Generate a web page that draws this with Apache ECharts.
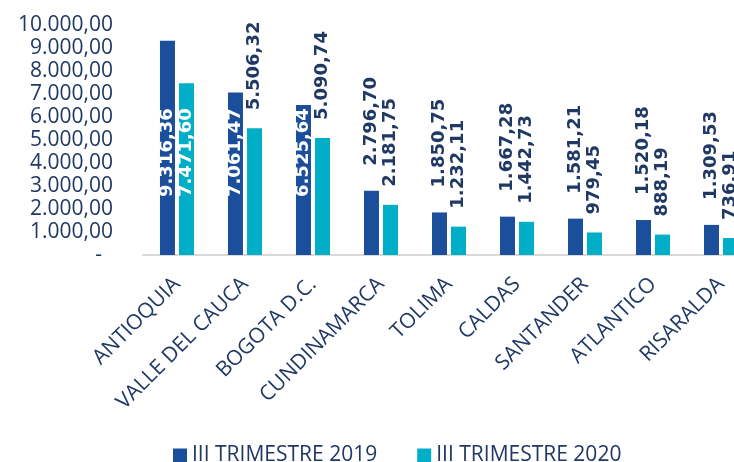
<!DOCTYPE html>
<html>
<head>
<meta charset="utf-8">
<script src="https://cdn.jsdelivr.net/npm/echarts@6/dist/echarts.min.js"></script>
<style>html,body{margin:0;padding:0;background:#fff;overflow:hidden;width:734px;height:462px}#c{width:755px;height:462px}</style>
</head>
<body>
<div id="c"></div>
<script>
var categories = ['ANTIOQUIA','VALLE DEL CAUCA','BOGOTA D.C.','CUNDINAMARCA','TOLIMA','CALDAS','SANTANDER','ATLANTICO','RISARALDA'];
var values2019 = [9316.36, 7061.47, 6525.64, 2796.70, 1850.75, 1667.28, 1581.21, 1520.18, 1309.53];
var values2020 = [7471.60, 5506.32, 5090.74, 2181.75, 1232.11, 1442.73, 979.45, 888.19, 736.91];
var seriesNames = ['III TRIMESTRE 2019', 'III TRIMESTRE 2020'];
var yTicks = {min: 0, max: 10000, interval: 1000};

var NAVY = '#1F3864';
var FONT = '"Open Sans", sans-serif';

function fmt(v, dec) {
  var s = v.toFixed(dec);
  var parts = s.split('.');
  var ip = parts[0].replace(/\B(?=(\d{3})+(?!\d))/g, '.');
  return dec ? ip + ',' + parts[1] : ip;
}

function makeData(arr, outsideDist) {
  return arr.map(function (v) {
    var inside = v > 6000;
    return {
      value: v,
      label: inside ? {
        position: 'insideBottom', distance: 58, color: '#fff'
      } : {
        position: 'top', distance: outsideDist, color: NAVY
      }
    };
  });
}

var labelBase = {
  show: true, rotate: 90, align: 'left', verticalAlign: 'middle',
  fontFamily: '"DejaVu Sans", Verdana, sans-serif', fontWeight: 'bold', fontSize: 18,
  formatter: function (p) { return fmt(p.value, 2); }
};

var chart = echarts.init(document.getElementById('c'), null, {renderer: 'canvas', width: 755, height: 462});
chart.setOption({
  animation: false,
  backgroundColor: '#fff',
  grid: {left: 143, right: 0, top: 25, bottom: 207, containLabel: false},
  legend: {
    left: 168, top: 440, itemWidth: 14, itemHeight: 14, itemGap: 40, icon: 'rect',
    textStyle: {color: NAVY, fontFamily: FONT, fontSize: 21},
    data: seriesNames
  },
  xAxis: {
    type: 'category', data: categories,
    axisLine: {show: true, lineStyle: {color: '#D9D9D9', width: 2}},
    axisTick: {show: false},
    axisLabel: {
      interval: 0, rotate: 45, margin: 26, color: NAVY, fontFamily: FONT, fontSize: 21
    }
  },
  yAxis: {
    type: 'value', min: yTicks.min, max: yTicks.max, interval: yTicks.interval,
    axisLine: {show: false}, axisTick: {show: false}, splitLine: {show: false},
    axisLabel: {
      margin: 30, color: NAVY, fontFamily: FONT, fontSize: 21,
      formatter: function (v) { return v === 0 ? '-  ' : fmt(v, 2); }
    }
  },
  series: [
    {
      name: seriesNames[0], type: 'bar', data: makeData(values2019, 25),
      barWidth: 15, barGap: '27%',
      itemStyle: {color: '#1B4F9C'},
      label: labelBase
    },
    {
      name: seriesNames[1], type: 'bar', data: makeData(values2020, 18),
      barWidth: 15, barGap: '27%',
      itemStyle: {color: '#00AEC7'},
      label: labelBase
    }
  ]
});
</script>
</body>
</html>
